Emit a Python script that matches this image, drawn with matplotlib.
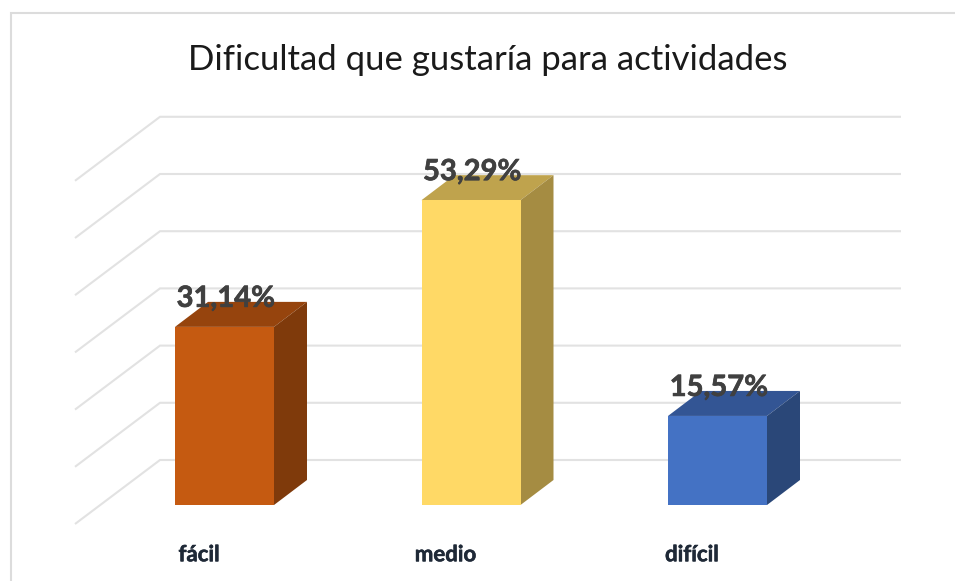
import matplotlib
matplotlib.use("Agg")
import matplotlib.pyplot as plt
from matplotlib.patches import Polygon
import matplotlib.patheffects as pe

title = "Dificultad que gustaría para actividades"
categories = ["fácil", "medio", "difícil"]
values = [31.14, 53.29, 15.57]
value_labels = ["31,14%", "53,29%", "15,57%"]
front_colors = ["#C55A11", "#FFD966", "#4472C4"]
top_colors = ["#96440D", "#BFA34D", "#335594"]
side_colors = ["#7F3A0B", "#A58C42", "#2A4778"]
grid_values = [0, 10, 20, 30, 40, 50, 60]

W, H = 955, 581
fig = plt.figure(figsize=(W / 100, H / 100), dpi=100, facecolor="white")
ax = fig.add_axes([0, 0, 1, 1])

# Data scale: x in category units, y in percent
PX_PER_CAT = 246.5
PX_PER_PCT = 5.72
X0_PX, Y0_PX = 224.5, 505
ax.set_xlim(-X0_PX / PX_PER_CAT, (W - X0_PX) / PX_PER_CAT)
ax.set_ylim((Y0_PX - H) / PX_PER_PCT, Y0_PX / PX_PER_PCT)
ax.axis("off")

# Chart frame: top and left edges, running off the picture
ax.plot([10.5 / W, 10.5 / W, 1], [0, 1 - 13 / H, 1 - 13 / H], transform=ax.transAxes,
        color="#DCDCDC", lw=1.5, solid_joinstyle="miter", clip_on=False, zorder=1)

bar_w = 99 / PX_PER_CAT
dx = 33 / PX_PER_CAT
dy = 25 / PX_PER_PCT

# 3D wall and floor gridlines
wall_x = (160 - X0_PX) / PX_PER_CAT
front_x = (75 - X0_PX) / PX_PER_CAT
right_x = (901 - X0_PX) / PX_PER_CAT
wall_dy = (Y0_PX - 460) / PX_PER_PCT
front_dy = (Y0_PX - 524) / PX_PER_PCT
for v in grid_values:
    ax.plot([front_x, wall_x, right_x],
            [v + front_dy, v + wall_dy, v + wall_dy],
            color="#E2E2E2", lw=1.5, solid_joinstyle="miter",
            solid_capstyle="butt", zorder=1)

heavier = [pe.withStroke(linewidth=0.5, foreground="#404040")]
for i, (v, fc, tc, sc) in enumerate(zip(values, front_colors, top_colors, side_colors)):
    l, r = i - bar_w / 2, i + bar_w / 2
    ax.add_patch(Polygon([(l, v), (r, v), (r + dx, v + dy), (l + dx, v + dy)],
                         fc=tc, ec="none", zorder=3))
    ax.add_patch(Polygon([(r, 0), (r + dx, dy), (r + dx, v + dy), (r, v)],
                         fc=sc, ec="none", zorder=3))
    ax.add_patch(Polygon([(l, 0), (r, 0), (r, v), (l, v)],
                         fc=fc, ec="none", zorder=4))
    ax.text(i + 0.005, v + 4.9, value_labels[i], ha="center", va="center",
            family="Lato", weight="bold", fontsize=21, color="#404040", zorder=5,
            path_effects=heavier)
    ax.text(i - 0.103, -8.7, categories[i], ha="center", va="center",
            family="Lato", weight="bold", fontsize=16, color="#1F2937", zorder=5,
            path_effects=[pe.withStroke(linewidth=0.4, foreground="#1F2937")])

ax.text(0.5105, 1 - 59.5 / H, title, transform=ax.transAxes, ha="center", va="center",
        family="Lato", fontsize=25, color="#1A1A1A")

fig.savefig("out.png", dpi=100)
